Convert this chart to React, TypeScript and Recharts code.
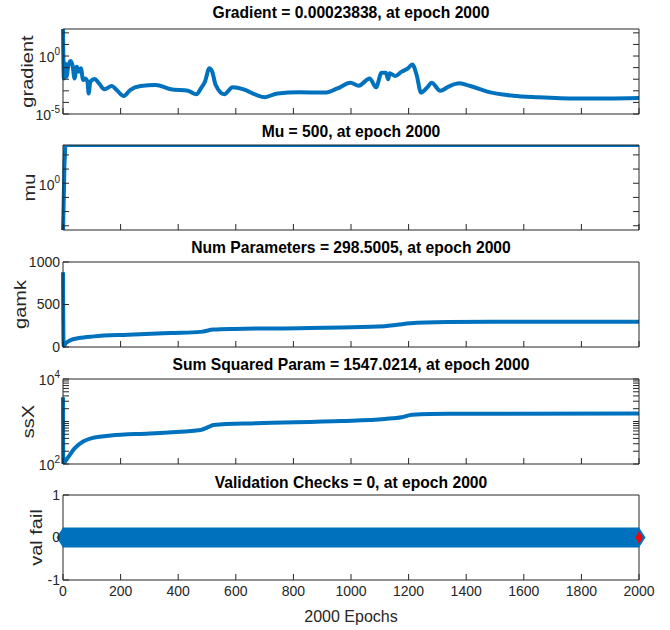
import { LineChart, Line, XAxis, YAxis } from 'recharts';

const BLUE = '#0072BD';
const INK = '#262626';
const FONT = '"Liberation Sans", Arial, Helvetica, sans-serif';

// ─── Data ──────────────────────────────────────────────────────────────────────

const epochTicks = [0, 200, 400, 600, 800, 1000, 1200, 1400, 1600, 1800, 2000];

const gradEpochs = [
  0, 3, 7, 12, 18, 25, 33, 40, 48, 55, 62, 70, 77, 85, 89, 95, 110, 125, 144, 169,
  189, 211, 233, 270, 322, 374, 434, 463, 481, 493, 508, 518, 530, 560, 589, 627, 671, 701,
  745, 820, 909, 953, 998, 1027, 1065, 1087, 1106, 1121, 1129, 1134, 1154, 1176, 1198, 1213,
  1228, 1243, 1265, 1280, 1310, 1339, 1376, 1414, 1473, 1562, 1651, 1785, 1889, 2000,
];
const gradValues = [
  214, 0.0117, 0.234, 0.0166, 0.12, 0.37, 0.166, 0.0117, 0.12, 0.045, 0.087, 0.0085, 0.0117,
  0.0062, 0.0006, 0.0062, 0.0105, 0.0044, 0.00135, 0.0026, 0.001, 0.00035, 0.00117, 0.0026,
  0.0032, 0.00135, 0.001, 0.0005, 0.002, 0.0062, 0.087, 0.045, 0.0032, 0.0005, 0.002, 0.00135,
  0.00044, 0.00028, 0.0006, 0.00074, 0.0007, 0.0016, 0.005, 0.0028, 0.0117, 0.002, 0.036, 0.036,
  0.0098, 0.032, 0.019, 0.045, 0.087, 0.19, 0.023, 0.0007, 0.002, 0.005, 0.001, 0.0023, 0.0044,
  0.0026, 0.00085, 0.00038, 0.00028, 0.00022, 0.00022, 0.00023838,
];
const gradTicks = [1e-5, 1e-4, 1e-3, 1e-2, 1e-1, 1, 10, 100];
const gradLabelled = [1e-5, 1];

const muEpochs = [0, 1, 3, 5, 8, 2000];
const muValues = [0.0005, 0.003, 0.2, 20, 500, 500];
const muTicks = [1e-3, 1e-2, 1e-1, 1, 10, 100];
const muLabelled = [1];

const gamkEpochs = [0, 2, 10, 25, 55, 107, 226, 374, 478, 523, 597, 820, 968, 1117, 1161, 1206, 1339, 1488, 2000];
const gamkValues = [880, 15, 45, 80, 105, 125, 145, 165, 178, 205, 213, 222, 230, 245, 262, 280, 294, 298, 298.5];
const gamkTicks = [0, 500, 1000];

const ssxEpochs = [0, 1, 3, 18, 40, 70, 100, 166, 300, 478, 508, 523, 671, 968, 1117, 1176, 1213, 1339, 2000];
const ssxValues = [3700, 100, 104, 145, 234, 339, 407, 468, 525, 631, 759, 832, 912, 1023, 1148, 1259, 1445, 1514, 1547.0214];
const ssxTicks = [100, 200, 300, 400, 500, 600, 700, 800, 900, 1000, 2000, 3000, 4000, 5000, 6000, 7000, 8000, 9000, 10000];
const ssxLabelled = [100, 10000];

const valEpochs = [0, 2000];
const valChecks = [0, 0];
const bestEpoch = [2000];
const bestChecks = [0];
const valTicks = [-1, 0, 1];

const rows = (xs: number[], ys: number[]) => xs.map((epoch, i) => ({ epoch, v: ys[i] }));

// ─── Ticks & labels ────────────────────────────────────────────────────────────

function NoTick() {
  return <g />;
}

function LinTick({ x, y, payload }: any) {
  return (
    <text x={x} y={y} dy="0.35em" textAnchor="end" fontSize={14} fill={INK} fontFamily={FONT}>
      {payload.value}
    </text>
  );
}

function PowTick({ x, y, payload, shown }: any) {
  if (!shown.includes(payload.value)) return <g />;
  const exp = Math.round(Math.log10(payload.value));
  return (
    <text x={x} y={y} dy="0.45em" textAnchor="end" fontSize={14} fill={INK} fontFamily={FONT}>
      10<tspan dy={-7} fontSize={10}>{exp}</tspan>
    </text>
  );
}

function EpochTick({ x, y, payload }: any) {
  return (
    <text x={x} y={y} dy="0.75em" textAnchor="middle" fontSize={14} fill={INK} fontFamily={FONT}>
      {payload.value}
    </text>
  );
}

const yLabel = (text: string, lx: number) => (props: any) => {
  const vb = props.viewBox;
  const cy = vb.y + vb.height / 2;
  return (
    <text
      transform={`translate(${lx},${cy}) rotate(-90) scale(1,0.8)`}
      textAnchor="middle"
      dy="0.35em"
      fontSize={20}
      fill={INK}
      fontFamily={FONT}
    >
      {text}
    </text>
  );
};

function Diamond({ cx, cy, w, h, fill }: any) {
  return <path d={`M${cx - w},${cy} L${cx},${cy - h} L${cx + w},${cy} L${cx},${cy + h} Z`} fill={fill} />;
}

// ─── Panel ─────────────────────────────────────────────────────────────────────

interface PanelProps {
  top: number;
  title: string;
  titleY: number;
  last?: boolean;
  children: any;
}

const PLOT_H = 85;

function Panel({ top, title, titleY, last, children }: PanelProps) {
  const bottomAxis = last ? 50 : 16;
  const height = 29 + PLOT_H + bottomAxis;
  return (
    <>
      <div
        style={{
          position: 'absolute', left: 63, width: 576, top: titleY - 10, height: 20,
          lineHeight: '20px', textAlign: 'center', fontFamily: FONT, fontWeight: 700,
          fontSize: 17, color: '#000', transform: 'scaleX(0.92)', whiteSpace: 'nowrap',
        }}
      >
        {title}
      </div>
      <div style={{ position: 'absolute', left: 0, top }}>
        <LineChart
          width={670}
          height={height}
          margin={{ top: 28, right: 30, bottom: 0, left: 0 }}
        >
          <XAxis
            xAxisId="b" dataKey="epoch" type="number" domain={[0, 2000]} ticks={epochTicks}
            height={bottomAxis} tickSize={-6} tickMargin={11}
            tick={last ? <EpochTick /> : <NoTick />}
            stroke={INK} interval={0}
            label={last ? {
              content: (p: any) => (
                <text x={p.viewBox.x + p.viewBox.width / 2} y={p.viewBox.y + 36} dy="0.35em"
                  textAnchor="middle" fontSize={16} fill={INK} fontFamily={FONT}>2000 Epochs</text>
              ),
            } : undefined}
          />
          <XAxis
            xAxisId="t" orientation="top" dataKey="epoch" type="number" domain={[0, 2000]}
            ticks={epochTicks} height={1} tickSize={-6} tick={<NoTick />} stroke={INK} interval={0}
          />
          {children}
        </LineChart>
      </div>
    </>
  );
}

// ─── App ───────────────────────────────────────────────────────────────────────

export default function App() {
  return (
    <div style={{ position: 'absolute', left: 0, top: 0, width: 670, height: 630, background: '#fff', overflow: 'hidden' }}>
      <Panel top={0} title="Gradient = 0.00023838, at epoch 2000" titleY={13}>
        <YAxis yAxisId="l" scale="log" type="number" domain={[1e-5, 215]} ticks={gradTicks} width={63}
          tickSize={-6} tickMargin={9} tick={<PowTick shown={gradLabelled} />} stroke={INK} interval={0}
          label={{ content: yLabel('gradient', 27) }} allowDataOverflow />
        <YAxis yAxisId="r" orientation="right" scale="log" type="number" domain={[1e-5, 215]} ticks={gradTicks}
          width={1} tickSize={-6} tick={<NoTick />} stroke={INK} interval={0} allowDataOverflow />
        <Line xAxisId="b" yAxisId="l" data={rows(gradEpochs, gradValues)} dataKey="v" type="monotone"
          stroke={BLUE} strokeWidth={4} dot={false} isAnimationActive={false} />
      </Panel>

      <Panel top={116} title="Mu = 500, at epoch 2000" titleY={132}>
        <YAxis yAxisId="l" scale="log" type="number" domain={[0.0005, 500]} ticks={muTicks} width={63}
          tickSize={-6} tickMargin={9} tick={<PowTick shown={muLabelled} />} stroke={INK} interval={0}
          label={{ content: yLabel('mu', 29) }} allowDataOverflow />
        <YAxis yAxisId="r" orientation="right" scale="log" type="number" domain={[0.0005, 500]} ticks={muTicks}
          width={1} tickSize={-6} tick={<NoTick />} stroke={INK} interval={0} allowDataOverflow />
        <Line xAxisId="b" yAxisId="l" data={rows(muEpochs, muValues)} dataKey="v" type="linear"
          stroke={BLUE} strokeWidth={4} dot={false} isAnimationActive={false} />
      </Panel>

      <Panel top={233} title="Num Parameters = 298.5005, at epoch 2000" titleY={248}>
        <YAxis yAxisId="l" type="number" domain={[0, 1000]} ticks={gamkTicks} width={63}
          tickSize={-6} tickMargin={9} tick={<LinTick />} stroke={INK} interval={0}
          label={{ content: yLabel('gamk', 20) }} />
        <YAxis yAxisId="r" orientation="right" type="number" domain={[0, 1000]} ticks={gamkTicks}
          width={1} tickSize={-6} tick={<NoTick />} stroke={INK} interval={0} />
        <Line xAxisId="b" yAxisId="l" data={rows(gamkEpochs, gamkValues)} dataKey="v" type="monotone"
          stroke={BLUE} strokeWidth={4} dot={false} isAnimationActive={false} />
      </Panel>

      <Panel top={350} title="Sum Squared Param = 1547.0214, at epoch 2000" titleY={365}>
        <YAxis yAxisId="l" scale="log" type="number" domain={[100, 10000]} ticks={ssxTicks} width={63}
          tickSize={-6} tickMargin={9} tick={<PowTick shown={ssxLabelled} />} stroke={INK} interval={0}
          label={{ content: yLabel('ssX', 28) }} allowDataOverflow />
        <YAxis yAxisId="r" orientation="right" scale="log" type="number" domain={[100, 10000]} ticks={ssxTicks}
          width={1} tickSize={-6} tick={<NoTick />} stroke={INK} interval={0} allowDataOverflow />
        <Line xAxisId="b" yAxisId="l" data={rows(ssxEpochs, ssxValues)} dataKey="v" type="monotone"
          stroke={BLUE} strokeWidth={4} dot={false} isAnimationActive={false} />
      </Panel>

      <Panel top={466} title="Validation Checks = 0, at epoch 2000" titleY={483} last>
        <YAxis yAxisId="l" type="number" domain={[-1, 1]} ticks={valTicks} width={63}
          tickSize={-6} tickMargin={9} tick={<LinTick />} stroke={INK} interval={0}
          label={{ content: yLabel('val fail', 36) }} />
        <YAxis yAxisId="r" orientation="right" type="number" domain={[-1, 1]} ticks={valTicks}
          width={1} tickSize={-6} tick={<NoTick />} stroke={INK} interval={0} />
        <Line xAxisId="b" yAxisId="l" data={rows(valEpochs, valChecks)} dataKey="v" type="linear"
          stroke={BLUE} strokeWidth={20} strokeLinecap="butt" isAnimationActive={false}
          dot={(p: any) => <Diamond key={p.index} cx={p.cx} cy={p.cy} w={6.5} h={10} fill={BLUE} />} />
        <Line xAxisId="b" yAxisId="l" data={rows(bestEpoch, bestChecks)} dataKey="v" stroke="none"
          isAnimationActive={false}
          dot={(p: any) => <Diamond key={p.index} cx={p.cx} cy={p.cy} w={3.5} h={6.5} fill="#FF0000" />} />
      </Panel>
    </div>
  );
}
